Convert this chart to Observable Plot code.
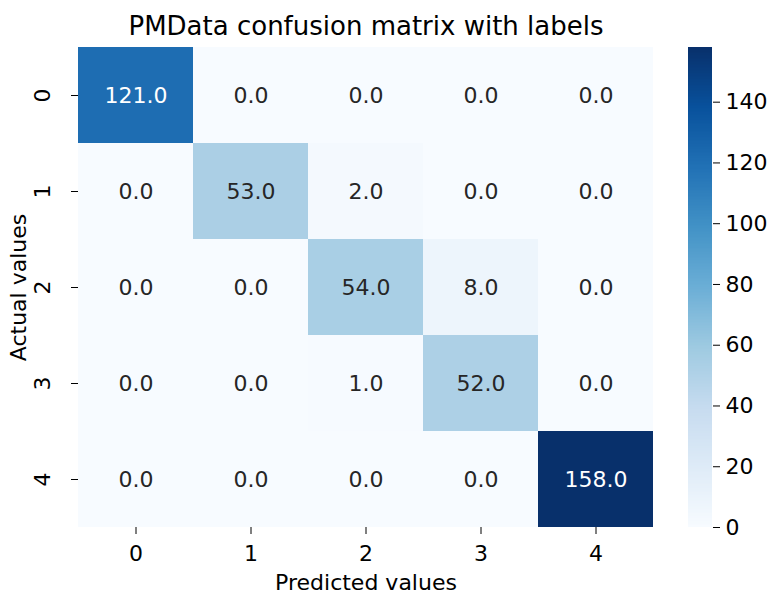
<!DOCTYPE html>
<html><head><meta charset="utf-8">
<script src="https://cdn.jsdelivr.net/npm/d3@7"></script>
<script src="https://cdn.jsdelivr.net/npm/@observablehq/plot@0.6"></script>
<style>
html,body{margin:0;padding:0;background:#fff;}
#chart{position:relative;width:771px;height:594px;font-family:"DejaVu Sans";}
#chart svg{position:absolute;left:0;top:0;}
</style></head><body><div id="chart"></div>
<script>
// ---- data ----
const classLabels = ["0", "1", "2", "3", "4"];
const row0 = [121, 0, 0, 0, 0];
const row1 = [0, 53, 2, 0, 0];
const row2 = [0, 0, 54, 8, 0];
const row3 = [0, 0, 1, 52, 0];
const row4 = [0, 0, 0, 0, 158];
const matrixRows = [row0, row1, row2, row3, row4];
const colorbarTicks = [0, 20, 40, 60, 80, 100, 120, 140];
const colorMax = 158;
const titleText = "PMData confusion matrix with labels";
const xLabel = "Predicted values";
const yLabel = "Actual values";
const BLUES = ["#f7fbff","#deebf7","#c6dbef","#9ecae1","#6baed6","#4292c6","#2171b5","#08519c","#08306b"];

// ---- derived ----
const interp = d3.piecewise(d3.interpolateRgb, BLUES);
const cells = matrixRows.flatMap((row, i) => row.map((v, j) => ({actual: classLabels[i], predicted: classLabels[j], value: v})));
function lum(c) {
  const {r, g, b} = d3.rgb(c);
  const f = x => { x /= 255; return x <= 0.03928 ? x / 12.92 : Math.pow((x + 0.055) / 1.055, 2.4); };
  return 0.2126 * f(r) + 0.7152 * f(g) + 0.0722 * f(b);
}
const darkText = d => lum(interp(d.value / colorMax)) > 0.408;
const W = 771, H = 594;
const colorOpt = {type: "linear", domain: [0, colorMax], interpolate: interp};
const baseStyle = {fontFamily: "DejaVu Sans", fontSize: "22px", color: "#000", background: "transparent", overflow: "visible"};

const main = Plot.plot({
  width: W, height: H,
  marginTop: 47, marginRight: 118, marginBottom: 67, marginLeft: 78,
  style: baseStyle,
  x: {type: "band", domain: classLabels, padding: 0},
  y: {type: "band", domain: classLabels, padding: 0},
  color: colorOpt,
  marks: [
    Plot.cell(cells, {x: "predicted", y: "actual", fill: "value", inset: 0}),
    Plot.text(cells.filter(darkText), {x: "predicted", y: "actual", text: d => d.value.toFixed(1), fill: "#262626", fontSize: 22, lineAnchor: "middle"}),
    Plot.text(cells.filter(d => !darkText(d)), {x: "predicted", y: "actual", text: d => d.value.toFixed(1), fill: "#ffffff", fontSize: 22, lineAnchor: "middle"}),
    Plot.axisX({tickSize: 7, tickPadding: 11, fontSize: 22, label: null}),
    Plot.axisY({tickSize: 7, tickFormat: () => "", label: null}),
    Plot.text(classLabels, {y: d => d, text: d => d, frameAnchor: "left", dx: -36, rotate: -90, textAnchor: "middle", lineAnchor: "middle", fontSize: 22}),
    Plot.text([xLabel], {text: d => d, frameAnchor: "bottom", dy: 55, textAnchor: "middle", lineAnchor: "middle", fontSize: 22}),
    Plot.text([yLabel], {text: d => d, frameAnchor: "left", dx: -60, rotate: -90, textAnchor: "middle", lineAnchor: "middle", fontSize: 22}),
    Plot.text([titleText], {text: d => d, frameAnchor: "top", dy: -21, textAnchor: "middle", lineAnchor: "middle", fontSize: 26})
  ]
});

const steps = d3.range(0, colorMax, 0.5);
const bar = Plot.plot({
  width: W, height: H,
  marginTop: 47, marginBottom: 67, marginLeft: 688, marginRight: W - 712,
  style: baseStyle,
  y: {domain: [0, colorMax]},
  color: colorOpt,
  marks: [
    Plot.rect(steps, {y1: d => d, y2: d => Math.min(d + 0.6, colorMax), fill: d => d + 0.25, shapeRendering: "crispEdges"}),
    Plot.axisY(colorbarTicks, {anchor: "right", tickSize: 7, tickPadding: 6, fontSize: 22, label: null})
  ]
});

const el = document.getElementById("chart");
el.appendChild(main);
el.appendChild(bar);
</script></body></html>
